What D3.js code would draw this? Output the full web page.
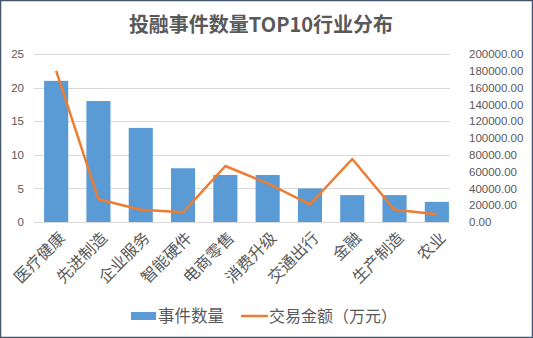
<!DOCTYPE html>
<html><head><meta charset="utf-8">
<script src="https://cdn.jsdelivr.net/npm/d3@7"></script>
<style>body{margin:0;background:#fff}svg{display:block}</style>
</head><body>
<script>
const categories = ["医疗健康","先进制造","企业服务","智能硬件","电商零售","消费升级","交通出行","金融","生产制造","农业"];
const eventCounts = [21,18,14,8,7,7,5,4,4,3];
const dealAmounts = [180000,27000,14600,11500,66700,46000,21000,75000,14600,9200];
const leftTicks = [0,5,10,15,20,25];
const rightTicks = [0,20000,40000,60000,80000,100000,120000,140000,160000,180000,200000];
const title = "投融事件数量TOP10行业分布";
const legendLabels = ["事件数量","交易金额（万元）"];

const W=533,H=338;
const font = "'Noto Sans CJK SC','Microsoft YaHei',sans-serif";
const svg = d3.select("body").append("svg").attr("width",W).attr("height",H);
svg.append("rect").attr("x",0.5).attr("y",0.5).attr("width",W-1).attr("height",H-1)
  .attr("fill","#fff").attr("stroke","#44546a").attr("stroke-width",1.5);

svg.append("text").attr("x",261).attr("y",32).attr("text-anchor","middle")
  .attr("font-family",font).attr("font-weight","bold").attr("font-size",20)
  .attr("fill","#595959").text(title);

const x = d3.scaleBand().domain(categories).range([35,458]).paddingInner(0.43).paddingOuter(0.215);
const yL = d3.scaleLinear().domain([0,25]).range([222,54]);
const yR = d3.scaleLinear().domain([0,200000]).range([222,54]);

// gridlines
svg.append("g").selectAll("line").data(leftTicks).join("line")
  .attr("x1",34).attr("x2",450).attr("y1",d=>Math.round(yL(d))+0.5).attr("y2",d=>Math.round(yL(d))+0.5)
  .attr("stroke","#d9d9d9").attr("stroke-width",1);

// left axis
const gl = svg.append("g").attr("transform","translate(24,0)")
  .call(d3.axisLeft(yL).tickValues(leftTicks).tickSize(0).tickPadding(0));
gl.select(".domain").remove();
gl.selectAll("text").attr("font-family","'Liberation Sans',Arial,sans-serif").attr("font-size",11.5).attr("fill","#595959");

// right axis
const gr = svg.append("g").attr("transform","translate(469,0)")
  .call(d3.axisRight(yR).tickValues(rightTicks).tickSize(0).tickPadding(0).tickFormat(d=>d.toFixed(2)));
gr.select(".domain").remove();
gr.selectAll("text").attr("font-family","'Liberation Sans',Arial,sans-serif").attr("font-size",11.5).attr("fill","#595959");

// bars
svg.append("g").selectAll("rect").data(categories).join("rect")
  .attr("x",d=>x(d)).attr("width",x.bandwidth())
  .attr("y",(d,i)=>yL(eventCounts[i])).attr("height",(d,i)=>yL(0)-yL(eventCounts[i]))
  .attr("fill","#5b9bd5");

// line
const line = d3.line().x((d,i)=>x(categories[i])+x.bandwidth()/2).y(d=>yR(d));
svg.append("path").datum(dealAmounts).attr("d",line).attr("fill","none")
  .attr("stroke","#ed7d31").attr("stroke-width",2.5).attr("stroke-linejoin","round");

// x labels
svg.append("g").selectAll("text").data(categories).join("text")
  .attr("transform",d=>`translate(${x(d)+x.bandwidth()/2+6},${235}) rotate(-45)`)
  .attr("text-anchor","end").attr("dy","0.35em")
  .attr("font-family",font).attr("font-size",16).attr("fill","#595959").text(d=>d);

// legend
const lg = svg.append("g");
lg.append("rect").attr("x",131).attr("y",312).attr("width",25).attr("height",8).attr("fill","#5b9bd5");
lg.append("text").attr("x",158).attr("y",316).attr("dy","0.36em").attr("font-family",font).attr("font-size",16.5).attr("fill","#595959").text(legendLabels[0]);
lg.append("line").attr("x1",241).attr("x2",268).attr("y1",316).attr("y2",316).attr("stroke","#ed7d31").attr("stroke-width",2.5);
lg.append("text").attr("x",269).attr("y",316).attr("dy","0.36em").attr("font-family",font).attr("font-size",16).attr("fill","#595959").text(legendLabels[1]);
</script>
</body></html>
